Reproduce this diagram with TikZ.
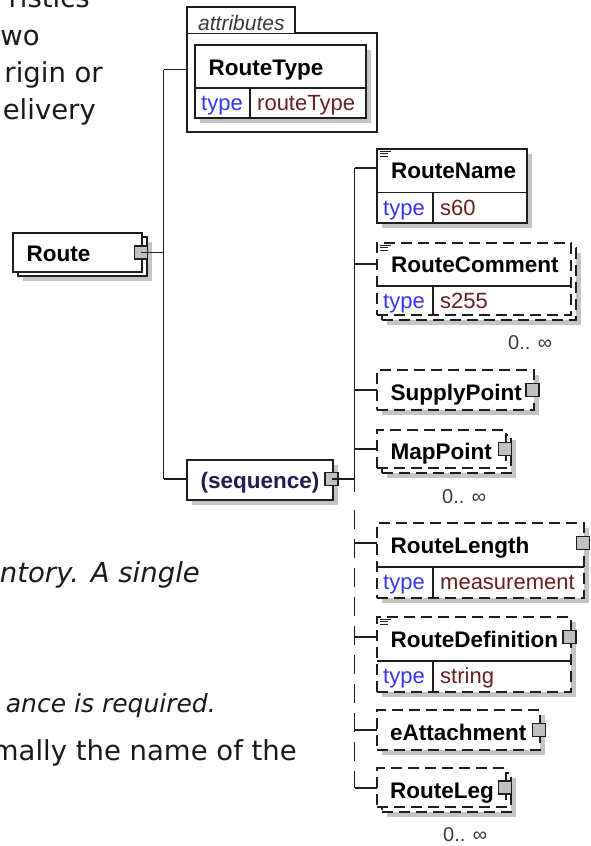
\documentclass[tikz,border=0pt]{standalone}
\usepackage{fontspec}
\setmainfont{Liberation Sans}
\newfontfamily\bodyfam{DejaVu Sans}
\usetikzlibrary{shadows}
\definecolor{linec}{HTML}{1E1E1E}
\definecolor{shadc}{HTML}{C4C4C4}
\definecolor{sqc}{HTML}{C0C0C0}
\definecolor{typec}{HTML}{3535F5}
\definecolor{valc}{HTML}{6A1E1E}
\definecolor{occc}{HTML}{3A3A3A}
\definecolor{seqc}{HTML}{1E1E50}
\definecolor{bodyc}{HTML}{1A1A1A}
\newcommand\nmfont{\fontsize{22.5}{27}\selectfont\bfseries}
\newcommand\tyfont{\fontsize{22}{26}\selectfont}
\newcommand\atfont{\fontsize{21}{25}\selectfont\itshape}
\newcommand\occfont{\fontsize{20}{24}\selectfont}
\newcommand\bodyfnt{\bodyfam\fontsize{27.5}{33}\selectfont}
\newcommand\bodyfnts{\bodyfam\fontsize{25}{30}\selectfont}
% type row: #1 node, #2 divider offset, #3 column offset, #4 value
\newcommand\typerow[4]{%
  \draw[conn] ([yshift=-#2pt]#1.north west) -- ([yshift=-#2pt]#1.north east);
  \draw[conn] ([xshift=#3pt,yshift=-#2pt]#1.north west) -- ([xshift=#3pt]#1.south west);
  \node[tyl] (#1tl) at ([xshift=6pt,yshift=-#2pt-22.5pt]#1.north west) {type};
  \node[tyv] (#1tv) at ([xshift=#3pt+7pt,yshift=-#2pt-22.5pt]#1.north west) {#4};
}
\newcommand\docicon[1]{%
  \draw[docl] ([xshift=3pt,yshift=-2.5pt]#1.north west) -- ++(11,0)
              ([xshift=3pt,yshift=-4.8pt]#1.north west) -- ++(8,0)
              ([xshift=3pt,yshift=-7.1pt]#1.north west) -- ++(8,0);
}
\begin{document}
\begin{tikzpicture}[x=1pt,y=-1pt,
  ebox/.style={draw=linec, line width=1.1pt, fill=white, anchor=north west, inner sep=0pt, outer sep=0pt},
  shd/.style={drop shadow={shadow xshift=5pt, shadow yshift=-5pt, fill=shadc, opacity=1}},
  dsh/.style={dash pattern=on 11pt off 6pt},
  sqr/.style={draw=linec, line width=1.1pt, fill=sqc, minimum width=13pt, minimum height=13pt, inner sep=0pt, outer sep=0pt},
  conn/.style={draw=linec, line width=1.1pt},
  docl/.style={draw=linec, line width=0.8pt},
  nm/.style={anchor=base west, inner sep=0pt, font=\nmfont, text=black},
  tyl/.style={anchor=base west, inner sep=0pt, font=\tyfont, text=typec},
  tyv/.style={anchor=base west, inner sep=0pt, font=\tyfont, text=valc},
  occ/.style={anchor=base west, inner sep=0pt, font=\occfont, text=occc},
  bt/.style={anchor=base east, inner sep=0pt, font=\bodyfnt, text=bodyc},
  bti/.style={anchor=base east, inner sep=0pt, font=\bodyfnt\itshape, text=bodyc},
  btis/.style={anchor=base east, inner sep=0pt, font=\bodyfnts\itshape, text=bodyc}
]
\path[use as bounding box, fill=white] (0,0) rectangle (591,846);

% body text fragments
\node[bt] (t1) at (90,7) {ristics};
\node[bt] (t2) at (40,45) {wo};
\node[bt] (t3) at (103,82) {rigin or};
\node[bt] (t4) at (96,119) {elivery};
\node[bti] (t5) at (200,582) {ntory. A single};
\node[btis] (t6) at (216,712) {ance is required.};
\node[bt] (t7) at (297,760) {mally the name of the};

% vertical line coordinates
\coordinate (v1a) at (163.5,69.5);
\coordinate (v1b) at (163.5,479);
\coordinate (v2a) at (354.5,168);
\coordinate (v2b) at (354.5,492);
\coordinate (v2c) at (354.5,510);
\coordinate (v2d) at (354.5,788);

% attributes group
\node[ebox, minimum width=190pt, minimum height=99pt] (attr) at (187,33) {};
\draw[conn, fill=white] (attr.north west) -- ++(0,-26) -- ++(108,0) -- ++(0,26);
\node[anchor=base west, inner sep=0pt, font=\atfont, text=occc] (attrlbl) at (198,30) {attributes};
\node[ebox, shd, minimum width=171pt, minimum height=73pt] (rt) at (195,45) {};
\node[nm] (rtt) at ([xshift=13.5pt,yshift=-30pt]rt.north west) {RouteType};
\typerow{rt}{43}{55}{routeType}

% Route
\node[ebox, shd, minimum width=129pt, minimum height=39pt] (routeb) at (18,237) {};
\node[ebox, minimum width=129pt, minimum height=39pt] (route) at (13,233) {};
\node[nm] (routet) at ([xshift=13.5pt,yshift=-28.5pt]route.north west) {Route};
\node[sqr] (routesq) at ([xshift=-1pt]route.east) {};

% sequence
\node[ebox, shd, minimum width=146pt, minimum height=40pt] (seq) at (187,460) {};
\node[nm, text=seqc] (seqt) at ([xshift=13.5pt,yshift=-28.5pt]seq.north west) {(sequence)};
\node[sqr] (seqsq) at ([xshift=-1.5pt,yshift=1pt]seq.east) {};

% first-level connectors
\draw[conn] (v1a) -- (v1b);
\draw[conn] (v1a) -- (attr.west |- v1a);
\draw[conn] (routesq.center) -- (routesq.center -| v1a);
\draw[conn] (v1b) -- (seq.west |- v1b);
\draw[conn] (seqsq.center) -- (seqsq.center -| v2a);

% children vertical line
\draw[conn] (v2a) -- (v2b);
\draw[conn, dash pattern=on 19pt off 10pt] (v2c) -- (v2d);

% RouteName
\node[ebox, shd, minimum width=150pt, minimum height=74pt] (rn) at (377,149) {};
\node[nm] (rnt) at ([xshift=14pt,yshift=-29pt]rn.north west) {RouteName};
\typerow{rn}{43.5}{56}{s60}
\docicon{rn}
\draw[conn] ([yshift=-19pt]rn.north west) -- ([yshift=-19pt]rn.north west -| v2a);

% RouteComment
\node[ebox, dsh, shd, minimum width=194pt, minimum height=72pt] (rcb) at (382,248) {};
\node[ebox, dsh, minimum width=194pt, minimum height=72pt] (rc) at (377,243) {};
\node[nm] (rct) at ([xshift=14pt,yshift=-29pt]rc.north west) {RouteComment};
\typerow{rc}{43}{56}{s255}
\docicon{rc}
\draw[conn] ([yshift=-21pt]rc.north west) -- ([yshift=-21pt]rc.north west -| v2a);
\node[occ] (rco) at (508,349) {0.. ∞};

% SupplyPoint
\node[ebox, dsh, shd, minimum width=157pt, minimum height=40pt] (sp) at (377,370) {};
\node[nm] (spt) at ([xshift=13.5pt,yshift=-30pt]sp.north west) {SupplyPoint};
\node[sqr] (spsq) at ([xshift=-1.5pt]sp.east) {};
\draw[conn] (sp.west) -- (sp.west -| v2a);

% MapPoint
\node[ebox, dsh, shd, minimum width=129pt, minimum height=38pt] (mpb) at (382,435) {};
\node[ebox, dsh, minimum width=129pt, minimum height=38pt] (mp) at (377,430) {};
\node[nm] (mpt) at ([xshift=13.5pt,yshift=-29pt]mp.north west) {MapPoint};
\node[sqr] (mpsq) at ([xshift=-1pt]mp.east) {};
\draw[conn] (mp.west) -- (mp.west -| v2a);
\node[occ] (mpo) at (442,503) {0.. ∞};

% RouteLength
\node[ebox, dsh, shd, minimum width=207pt, minimum height=75pt] (rl) at (377,523) {};
\node[nm] (rlt) at ([xshift=13.5pt,yshift=-30pt]rl.north west) {RouteLength};
\typerow{rl}{44}{56}{measurement}
\node[sqr] (rlsq) at ([xshift=-1pt,yshift=-20pt]rl.north east) {};
\draw[conn] ([yshift=-20pt]rl.north west) -- ([yshift=-20pt]rl.north west -| v2a);

% RouteDefinition
\node[ebox, dsh, shd, minimum width=194pt, minimum height=75pt] (rd) at (377,617) {};
\node[nm] (rdt) at ([xshift=13.5pt,yshift=-30pt]rd.north west) {RouteDefinition};
\typerow{rd}{44}{56}{string}
\docicon{rd}
\node[sqr] (rdsq) at ([xshift=-1.5pt,yshift=-20pt]rd.north east) {};
\draw[conn] ([yshift=-20pt]rd.north west) -- ([yshift=-20pt]rd.north west -| v2a);

% eAttachment
\node[ebox, dsh, shd, minimum width=163pt, minimum height=40pt] (ea) at (377,710) {};
\node[nm] (eat) at ([xshift=13pt,yshift=-30pt]ea.north west) {eAttachment};
\node[sqr] (easq) at ([xshift=-1pt]ea.east) {};
\draw[conn] (ea.west) -- (ea.west -| v2a);

% RouteLeg
\node[ebox, dsh, shd, minimum width=129pt, minimum height=39pt] (rlgb) at (382,773) {};
\node[ebox, dsh, minimum width=129pt, minimum height=39pt] (rlg) at (377,768) {};
\node[nm] (rlgt) at ([xshift=13pt,yshift=-30pt]rlg.north west) {RouteLeg};
\node[sqr] (rlgsq) at ([xshift=-1pt]rlg.east) {};
\draw[conn] (v2d) -- (rlg.west |- v2d);
\node[occ] (rlgo) at (443,841) {0.. ∞};
\end{tikzpicture}
\end{document}
